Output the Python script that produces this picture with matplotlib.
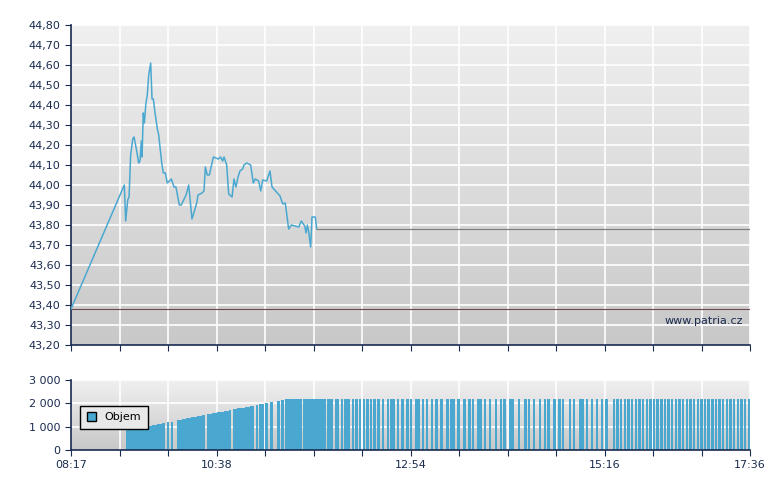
import numpy as np
import matplotlib
matplotlib.use("Agg")
import matplotlib.pyplot as plt
from matplotlib.patches import Patch

# minutes since 08:17 and price
price_t = [0, 43.9, 45.0, 46.7, 47.8, 49.1, 50.8, 51.9, 54.1, 55.7, 56.8, 57.9, 58.5, 59.5, 60.4,
           61.7, 62.8, 64.0, 65.6, 66.7, 67.8, 69.2, 71.1, 72.2, 74.7, 76.0, 77.7, 79.3, 82.6,
           84.8, 86.4, 89.2, 90.8, 94.7, 96.9, 99.6, 102.1, 103.5, 104.6, 107.9, 109.5, 110.6,
           112.2, 113.9, 117.2, 121.3, 123.2, 124.9, 126.0, 128.2, 129.8, 132.6, 134.2, 135.8,
           137.5, 139.1, 141.3, 142.4, 144.6, 147.9, 150.1, 151.7, 154.5, 156.2, 157.8, 161.1,
           163.8, 165.5, 172.1, 174.3, 176.4, 179.2, 181.4, 187.5, 189.6, 192.4, 193.5, 194.6,
           195.7, 197.3, 198.4, 201.1, 202.3]
price_v = [43.38, 44.00, 43.82, 43.925, 43.94, 44.15, 44.23, 44.24, 44.17, 44.11, 44.12, 44.22,
           44.14, 44.36, 44.31, 44.41, 44.45, 44.55, 44.61, 44.43, 44.43, 44.36, 44.28, 44.25,
           44.11, 44.06, 44.06, 44.01, 44.03, 43.99, 43.99, 43.90, 43.90, 43.95, 44.00, 43.83,
           43.88, 43.91, 43.95, 43.96, 43.97, 44.09, 44.05, 44.05, 44.14, 44.13, 44.14, 44.12,
           44.14, 44.10, 43.955, 43.94, 44.03, 43.99, 44.04, 44.07, 44.08, 44.10, 44.11, 44.10,
           44.01, 44.03, 44.02, 43.97, 44.025, 44.02, 44.07, 43.99, 43.945, 43.905, 43.91, 43.78,
           43.80, 43.79, 43.82, 43.795, 43.76, 43.80, 43.765, 43.69, 43.84, 43.84, 43.78]
last_price = 43.78
session_end = 559
prev_close = 43.38

# volume bars (minute, height)
vol_t = [45, 47, 49, 51, 53, 54, 55, 56, 58, 59, 60, 62, 63, 65, 67, 69, 71, 73, 75, 79, 82,
         87, 89, 91, 93, 95, 97, 99, 100, 102, 104, 106, 108, 112, 113, 114, 116, 118, 120,
         122, 124, 126, 128, 130, 133, 135, 137, 139, 141, 143, 145, 147, 149, 152, 155, 157,
         160, 164, 170, 173, 176, 178, 180, 181, 182, 183, 184, 185, 186, 188, 191, 192, 194,
         196, 198, 200, 202, 204, 206, 208, 211, 213, 214, 217, 219, 222, 225, 226, 228, 231,
         234, 237, 240, 243, 246, 249, 252, 256, 260, 263, 265, 268, 272, 276, 279, 283, 285,
         289, 292, 296, 300, 304, 309, 312, 314, 318, 323, 327, 330, 334, 336, 340, 344, 349,
         353, 356, 361, 363, 368, 373, 376, 380, 385, 389, 392, 397, 401, 404, 410, 413, 418,
         420, 424, 428, 432, 436, 440, 446, 449, 452, 455, 458, 461, 464, 467, 470, 473, 476,
         479, 482, 485, 488, 491, 494, 497, 500, 503, 506, 509, 512, 515, 518, 521, 524, 527,
         530, 533, 536, 539, 542, 545, 548, 551, 554, 557]
vol_h = [850, 860, 880, 900, 920, 930, 950, 960, 980, 990, 1000, 1020, 1030, 1050, 1070, 1090,
         1110, 1130, 1150, 1190, 1220, 1280, 1300, 1320, 1340, 1360, 1380, 1400, 1410, 1430,
         1450, 1470, 1490, 1530, 1540, 1550, 1570, 1590, 1610, 1630, 1650, 1670, 1690, 1710,
         1740, 1760, 1780, 1800, 1820, 1840, 1860, 1880, 1900, 1930, 1960, 1980, 2010, 2050,
         2110, 2140, 2170, 2190] + [2200] * 123

def xfmt(v):
    return f"{v:.2f}".replace(".", ",")

fig = plt.figure(figsize=(7.8, 4.9), dpi=100)
ax = fig.add_axes([71 / 780, 1 - 345 / 490, 679 / 780, 320 / 490])
axv = fig.add_axes([71 / 780, 1 - 450 / 490, 679 / 780, 70 / 490])

navy = "#1a2b50"
grad = np.linspace(0, 1, 256).reshape(-1, 1)
cmap = matplotlib.colors.LinearSegmentedColormap.from_list("g", ["#f0f0f0", "#c8c8c8"])
for a, lo, hi in ((ax, 43.2, 44.8), (axv, 0, 3000)):
    a.imshow(grad, cmap=cmap, extent=[0, session_end, lo, hi], aspect="auto", zorder=0)
    a.set_xlim(0, session_end)
    a.set_ylim(lo, hi)
    for s in ("top", "right"):
        a.spines[s].set_visible(False)
    for s in ("left", "bottom"):
        a.spines[s].set_color(navy)
        a.spines[s].set_linewidth(1.2)
    a.tick_params(colors=navy, labelsize=8, direction="out", length=4)
    grid_x = np.linspace(0, session_end, 15)
    a.set_xticks(grid_x)
    for gx in grid_x[1:]:
        a.axvline(gx, color="white", lw=1.2, zorder=1)

yt = np.round(np.arange(43.2, 44.81, 0.1), 2)
ax.set_yticks(yt)
ax.set_yticklabels([xfmt(v) for v in yt])
for v in yt[1:]:
    ax.axhline(v, color="white", lw=1.2, zorder=1)
ax.set_xticklabels([])
ax.axhline(prev_close, color="#6a4a4a", lw=0.8, zorder=2)
ax.plot(price_t, price_v, color="#4aa8d0", lw=1.1, zorder=3)
ax.plot([price_t[-1], session_end], [last_price, last_price], color="#808080", lw=0.9, zorder=3)
ax.text(0.99, 0.06, "www.patria.cz", transform=ax.transAxes, ha="right", va="bottom",
        fontsize=8, color=navy)

vt = [0, 1000, 2000, 3000]
axv.set_yticks(vt)
axv.set_yticklabels(["0", "1 000", "2 000", "3 000"])
for v in vt[1:]:
    axv.axhline(v, color="white", lw=1.2, zorder=1)
axv.bar(vol_t, vol_h, width=2.0, align="edge", color="#4aa8d0", zorder=2)
labels = {0: "08:17", 3: "10:38", 7: "12:54", 11: "15:16", 14: "17:36"}
axv.set_xticklabels([labels.get(i, "") for i in range(15)])
leg = axv.legend(handles=[Patch(facecolor="#4aa8d0", edgecolor="black", label="Objem")],
                 loc="lower left", bbox_to_anchor=(0.005, 0.22), fontsize=8, fancybox=False,
                 framealpha=1, handlelength=0.8, handleheight=0.8, borderpad=0.6)
leg.get_frame().set_edgecolor("black")
leg.get_frame().set_facecolor("#e8e8e8")
leg.set_zorder(5)

fig.savefig("out.png", dpi=100)
